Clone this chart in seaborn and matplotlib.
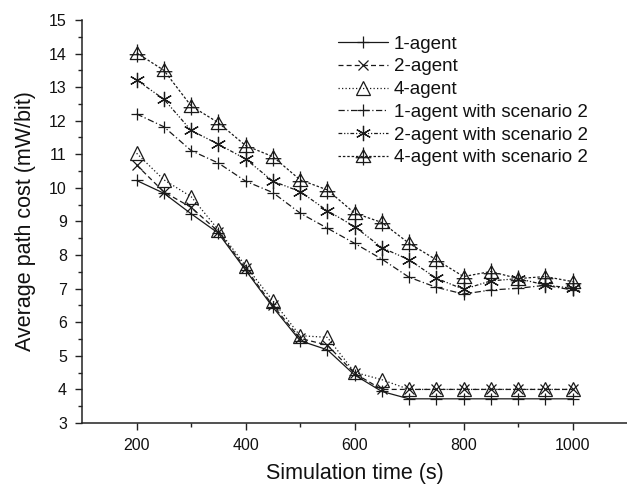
import numpy as np
import pandas as pd
import matplotlib
matplotlib.use("Agg")
import matplotlib.pyplot as plt
from matplotlib.path import Path
import seaborn as sns

time_s = [200, 250, 300, 350, 400, 450, 500, 550, 600, 650, 700, 750, 800, 850, 900, 950, 1000]
agent1 = [10.22, 9.84, 9.23, 8.65, 7.55, 6.45, 5.45, 5.18, 4.43, 3.94, 3.72, 3.72, 3.72, 3.72, 3.72, 3.72, 3.72]
agent2 = [10.68, 9.88, 9.42, 8.70, 7.60, 6.50, 5.52, 5.32, 4.48, 4.00, 4.00, 4.00, 4.00, 4.00, 4.00, 4.00, 4.00]
agent4 = [11.03, 10.24, 9.74, 8.75, 7.68, 6.64, 5.60, 5.55, 4.51, 4.29, 4.00, 4.00, 4.00, 4.00, 4.00, 4.00, 4.00]
agent1_s2 = [12.20, 11.82, 11.11, 10.74, 10.20, 9.86, 9.25, 8.80, 8.35, 7.88, 7.34, 7.04, 6.84, 6.96, 7.01, 7.10, 6.96]
agent2_s2 = [13.21, 12.64, 11.71, 11.30, 10.86, 10.20, 9.89, 9.32, 8.85, 8.22, 7.86, 7.31, 6.98, 7.23, 7.30, 7.11, 7.01]
agent4_s2 = [14.02, 13.50, 12.44, 11.94, 11.26, 10.93, 10.24, 9.94, 9.25, 8.97, 8.35, 7.86, 7.36, 7.51, 7.30, 7.36, 7.21]

labels = ["1-agent", "2-agent", "4-agent",
          "1-agent with scenario 2", "2-agent with scenario 2", "4-agent with scenario 2"]
series = [agent1, agent2, agent4, agent1_s2, agent2_s2, agent4_s2]

sns.set_theme(style="ticks")
plt.rcParams['font.family'] = ['Liberation Sans', 'DejaVu Sans']

# triangle with cross marker
tri_cross = Path(
    [(-0.6, -0.5), (0.6, -0.5), (0.0, 0.55), (-0.6, -0.5),
     (0.0, -0.75), (0.0, 0.75), (-0.65, -0.1), (0.65, -0.1)],
    [Path.MOVETO, Path.LINETO, Path.LINETO, Path.CLOSEPOLY,
     Path.MOVETO, Path.LINETO, Path.MOVETO, Path.LINETO])

styles = [
    dict(linestyle='-', marker='+', markersize=9),
    dict(linestyle=(0, (4, 2.5)), marker='x', markersize=7),
    dict(linestyle=(0, (1, 1.8)), marker='^', markersize=10, fillstyle='none'),
    dict(linestyle=(0, (5, 2, 1, 2)), marker='+', markersize=9),
    dict(linestyle=(0, (3, 1.5, 1, 1.5, 1, 1.5)), marker=(6, 2, 0), markersize=11),
    dict(linestyle=(0, (2, 1.5)), marker=tri_cross, markersize=13, fillstyle='none'),
]

fig = plt.figure(figsize=(6.27, 4.86), dpi=100)
ax = fig.add_axes([0.131, 0.1296, 0.869, 0.8294])

for lab, vals, st in zip(labels, series, styles):
    df = pd.DataFrame({"time": time_s, "cost": vals})
    sns.lineplot(data=df, x="time", y="cost", ax=ax, color="#1a1a1a",
                 linewidth=0.9, markeredgewidth=0.9, markeredgecolor="#1a1a1a",
                 label=lab, **st)

ax.set_xlim(100, 1100)
ax.set_ylim(3, 15)
ax.set_xticks([200, 400, 600, 800, 1000])
ax.set_xticks([300, 500, 700, 900], minor=True)
ax.set_yticks(range(3, 16))
ax.set_yticks(np.arange(3.5, 15, 1.0), minor=True)
ax.tick_params(axis='both', which='major', direction='out', length=5, width=1,
               labelsize=11.5, color='#222', labelcolor='#111', pad=6)
ax.tick_params(axis='both', which='minor', direction='out', length=3, width=1, color='#222')
sns.despine(ax=ax)
for s in ['left', 'bottom']:
    ax.spines[s].set_linewidth(1.1)
    ax.spines[s].set_color('#222')

ax.set_xlabel("Simulation time (s)", fontsize=15.5, labelpad=7, color='#111')
ax.set_ylabel("Average path cost (mW/bit)", fontsize=15.5, labelpad=9, color='#111')

leg = ax.legend(loc='upper left', bbox_to_anchor=(0.455, 0.98), frameon=False,
                fontsize=13.5, handlelength=2.7, handletextpad=0.3, labelspacing=0.3,
                borderaxespad=0)
for t in leg.get_texts():
    t.set_color('#111')

fig.savefig("out.png", dpi=100)
